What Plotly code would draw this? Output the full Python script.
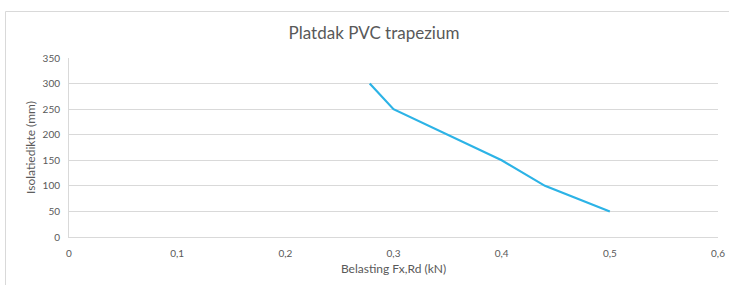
import plotly.graph_objects as go

belasting = [0.278, 0.3, 0.4, 0.44, 0.5]
isolatiedikte = [300, 250, 150, 100, 50]
x_ticks = [0, 0.1, 0.2, 0.3, 0.4, 0.5, 0.6]
y_ticks = [0, 50, 100, 150, 200, 250, 300, 350]

W, H = 729, 285
ml, mr, mt, mb = 69, 11, 58, 48
pw = W - ml - mr
ph = H - mt - mb

font = "Lato, sans-serif"
gray = "#595959"

fig = go.Figure()
fig.add_trace(go.Scatter(
    x=belasting, y=isolatiedikte, mode="lines",
    line=dict(color="#2CB3E6", width=2.2), showlegend=False,
))

fig.update_layout(
    width=W, height=H,
    margin=dict(l=ml, r=mr, t=mt, b=mb, autoexpand=False),
    paper_bgcolor="white", plot_bgcolor="white",
    separators=",.",
    title=dict(text="Platdak PVC trapezium", x=374 / W, xanchor="center",
               y=1 - 33 / H, yanchor="middle",
               font=dict(family=font, size=17, color=gray)),
    xaxis=dict(range=[0, 0.6], tickvals=x_ticks, showgrid=False,
               showline=True, linecolor="#d9d9d9", linewidth=1,
               zeroline=False, ticks="", ticklen=0, automargin=False,
               ticklabelstandoff=7,
               tickfont=dict(family=font, size=10, color=gray),
               title=dict(text="Belasting Fx,Rd (kN)", standoff=6,
                          font=dict(family=font, size=12, color=gray))),
    yaxis=dict(range=[0, 350], tickvals=y_ticks, showgrid=True,
               gridcolor="#d9d9d9", gridwidth=1,
               showline=True, linecolor="#d9d9d9", linewidth=1,
               zeroline=False, ticks="", ticklen=0, automargin=False,
               ticklabelstandoff=6,
               tickfont=dict(family=font, size=10, color=gray),
               title=dict(text="Isolatiedikte (mm)", standoff=4,
                          font=dict(family=font, size=12, color=gray))),
)

# outer chart border (partially visible)
fig.add_shape(type="rect", xref="paper", yref="paper",
              x0=(5.5 - ml) / pw, x1=(W + 20 - ml) / pw,
              y0=-(H + 20 - (mt + ph)) / ph, y1=(mt + ph - 11.5) / ph,
              line=dict(color="#d9d9d9", width=1), layer="below")

fig.write_html("out.html", config={"displayModeBar": False},
               post_script="document.body.style.margin='0';document.body.style.overflow='hidden';")
